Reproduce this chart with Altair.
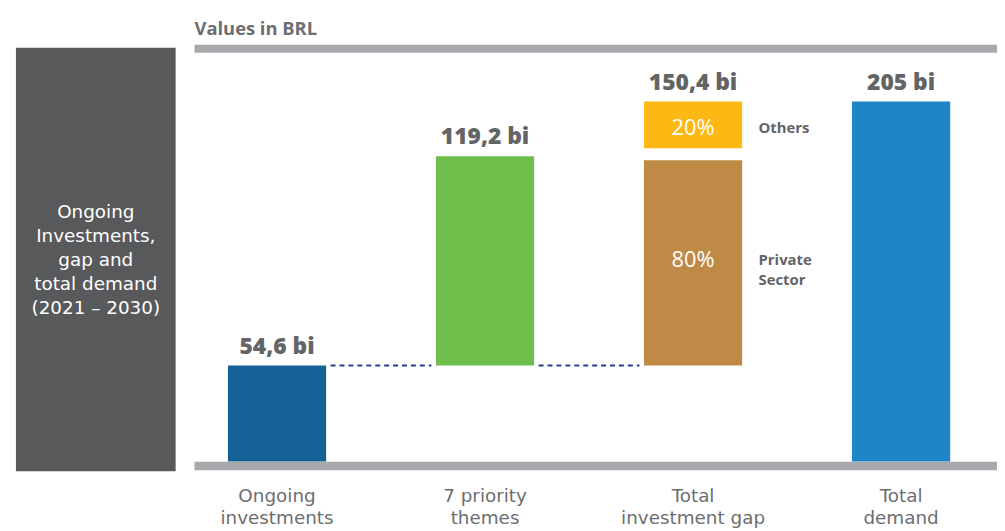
import altair as alt
import pandas as pd

categories = ["Ongoing investments", "7 priority themes", "Total investment gap", "Total demand"]
axis_labels = ["Ongoing\ninvestments", "7 priority\nthemes", "Total\ninvestment gap", "Total\ndemand"]
values = [54.6, 119.2, 150.4, 205.0]
value_labels = ["54,6 bi", "119,2 bi", "150,4 bi", "205 bi"]
gap_parts = ["Private\nSector", "Others"]
gap_shares = [0.8, 0.2]
gap_share_labels = ["80%", "20%"]
bar_keys = ["ongoing", "themes", "private", "others", "demand"]
bar_colors = ["#166196", "#6DBE4B", "#BF8A45", "#FDB913", "#1E86C8"]
panel_text = "Ongoing\nInvestments,\ngap and\ntotal demand\n(2021 – 2030)"
unit_title = "Values in BRL"

ongoing, themes, gap, demand = values
private_top = ongoing + gap * gap_shares[0]
gap_top = ongoing + gap

W, H = 809, 416
FONT = "Open Sans"
GREY_TXT = "#636466"
RULE = "#A7A9AC"

xs = alt.Scale(domain=categories, paddingInner=0.5, paddingOuter=0.179, align=0.41)
ys = alt.Scale(domain=[0, 235], nice=False, zero=True)
X = alt.X("cat:N", scale=xs, axis=None, sort=categories)

main_df = pd.DataFrame({
    "cat": [categories[0], categories[1], categories[3]],
    "start": [0, ongoing, 0],
    "end": [ongoing, ongoing + themes, demand],
    "key": ["ongoing", "themes", "demand"],
})
private_df = pd.DataFrame({"cat": [categories[2]], "start": [ongoing], "end": [private_top], "key": ["private"]})
others_df = pd.DataFrame({"cat": [categories[2]], "start": [private_top], "end": [gap_top], "key": ["others"]})

color = alt.Color("key:N", scale=alt.Scale(domain=bar_keys, range=bar_colors), legend=None)

main_bars = alt.Chart(main_df).mark_bar(size=99).encode(
    x=X, y=alt.Y("end:Q", scale=ys, axis=None), y2="start:Q", color=color)
private_bar = alt.Chart(private_df).mark_bar(size=99, yOffset=6).encode(
    x=X, y=alt.Y("end:Q", scale=ys, axis=None), y2="start:Q", color=color)
others_bar = alt.Chart(others_df).mark_bar(size=99, y2Offset=-6).encode(
    x=X, y=alt.Y("end:Q", scale=ys, axis=None), y2="start:Q", color=color)

vl_df = pd.DataFrame({
    "cat": categories,
    "top": [ongoing, ongoing + themes, gap_top, demand],
    "label": value_labels,
})
value_text = alt.Chart(vl_df).mark_text(
    font=FONT, fontSize=23, fontWeight=800, color=GREY_TXT, baseline="alphabetic", dy=-12
).encode(x=X, y=alt.Y("top:Q", scale=ys), text="label:N")

share_df = pd.DataFrame({
    "cat": [categories[2], categories[2]],
    "mid": [(ongoing + private_top) / 2, (private_top + gap_top) / 2],
    "label": gap_share_labels,
    "part": gap_parts,
})
share_text = alt.Chart(share_df).mark_text(
    font=FONT, fontSize=22, color="white", baseline="middle"
).encode(x=X, y=alt.Y("mid:Q", scale=ys), text="label:N")
part_text = alt.Chart(share_df).mark_text(
    font=FONT, fontSize=15, fontWeight="bold", color=GREY_TXT, align="left",
    baseline="middle", xOffset=66, lineBreak="\n", lineHeight=20.5
).encode(x=X, y=alt.Y("mid:Q", scale=ys), text="part:N")

conn_df = pd.DataFrame({
    "cat": [categories[0], categories[1]],
    "to": [categories[1], categories[2]],
    "level": [ongoing, ongoing],
})
connectors = alt.Chart(conn_df).mark_rule(
    color="#2E3F8F", strokeWidth=2, strokeDash=[5, 4], xOffset=54, x2Offset=-54
).encode(x=X, x2="to:N", y=alt.Y("level:Q", scale=ys))

cat_df = pd.DataFrame({"cat": categories, "lab": axis_labels})
cat_text = alt.Chart(cat_df).mark_text(
    font="DejaVu Sans", fontSize=18.5, color="#6D6E71", baseline="middle", lineBreak="\n", lineHeight=22.5
).encode(x=X, y=alt.value(451), text="lab:N")

one = pd.DataFrame({"t": [panel_text], "u": [unit_title]})
top_rule = alt.Chart(one).mark_rule(color=RULE, strokeWidth=8).encode(
    x=alt.value(0), x2=alt.value(W), y=alt.value(0))
bottom_rule = alt.Chart(one).mark_rule(color=RULE, strokeWidth=8.5).encode(
    x=alt.value(0), x2=alt.value(W), y=alt.value(420.5))
panel = alt.Chart(one).mark_rect(color="#58595B").encode(
    x=alt.value(-180), x2=alt.value(-19), y=alt.value(-1), y2=alt.value(426))
panel_txt = alt.Chart(one).mark_text(
    font="DejaVu Sans", fontSize=18.5, color="white", baseline="middle", align="center",
    lineBreak="\n", lineHeight=24
).encode(x=alt.value(-99.5), y=alt.value(165), text="t:N")
unit_txt = alt.Chart(one).mark_text(
    font=FONT, fontSize=18.5, fontWeight="bold", color="#6D6E71", align="left", baseline="middle"
).encode(x=alt.value(0), y=alt.value(-20), text="u:N")

chart = alt.layer(
    panel, panel_txt, unit_txt, top_rule, bottom_rule,
    main_bars, private_bar, others_bar, connectors,
    value_text, share_text, part_text, cat_text,
).properties(
    width=W, height=H,
    padding={"left": 188, "top": 39, "right": 0, "bottom": 68},
    autosize=alt.AutoSizeParams(type="none"),
).configure_view(stroke=None)

chart.save("out.html", embed_options={"renderer": "svg", "actions": False})
